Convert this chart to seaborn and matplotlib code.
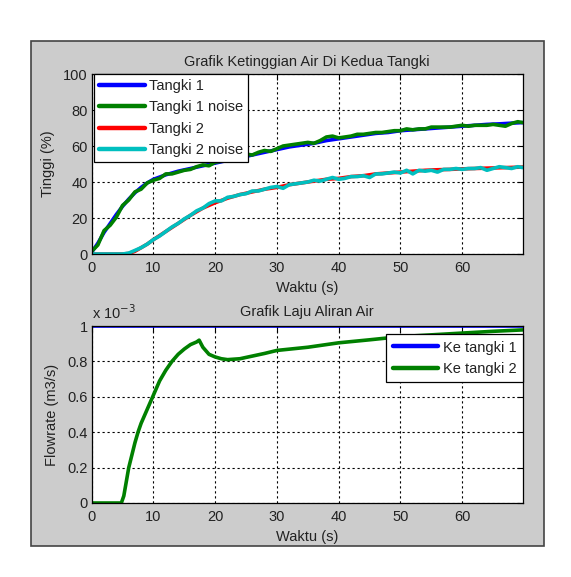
import matplotlib
matplotlib.use('Agg')
import matplotlib.pyplot as plt
import seaborn as sns
from matplotlib.patches import Rectangle

# --- data ---
t_clean = [0, 1, 2, 3, 4, 5, 6, 7, 8, 9, 10, 12, 14, 16, 18, 20, 22, 24, 26, 28, 30,
           32, 34, 36, 38, 40, 42, 44, 46, 48, 50, 52, 54, 56, 58, 60, 62, 64, 66, 68, 69.8]
tangki1 = [1, 6, 12, 17, 22, 26.5, 30.5, 34, 37, 39.5, 41.5, 44, 46, 47.5, 49, 50.5,
           52, 53.5, 55, 56.5, 58, 59.5, 60.5, 61.5, 63, 64, 65, 66, 67, 67.5, 68.5,
           69, 69.5, 70, 70.5, 71, 71.5, 72, 72.3, 72.7, 73]
tangki2 = [0, 0, 0, 0, 0, 0, 0.3, 1.5, 3.5, 5.5, 8, 12.5, 17, 21.5, 25.5, 28.5, 31,
           33, 34.5, 36, 37, 38.5, 39.5, 40.5, 41.5, 42, 43, 43.5, 44.5, 45, 45.5, 46,
           46.5, 46.8, 47, 47.3, 47.5, 47.7, 47.9, 48.1, 48.3]

t_noise = list(range(70)) + [69.8]
tangki1_noise = [1.5, 5, 13, 16, 20.5, 27, 30, 34.5, 36, 39.5, 41, 42, 44.5, 44.5, 45.5,
                 46.5, 47, 48.5, 49.5, 49, 51, 51.5, 52, 53.5, 54, 55.5, 55, 56.5, 57.5,
                 57, 58.5, 60, 60.5, 61, 61.5, 62, 61.5, 63, 65, 65.5, 64.5, 65, 65.5,
                 66.5, 66.5, 67, 67.5, 67.5, 68, 68.5, 68.5, 69.5, 69, 69.5, 69.5, 70.5,
                 70.5, 70.5, 70.5, 71, 71.5, 71, 71.5, 71.5, 71.5, 72, 71.5, 71, 72.5,
                 73.5, 73]
tangki2_noise = [0, 0, 0, 0, 0, 0, 0.5, 2, 3.5, 5.5, 8, 10, 12.5, 15, 17, 19.5, 21.5,
                 24, 25.5, 28, 29.5, 29.5, 31.5, 32, 33, 33.5, 35, 35, 36, 37, 37.5,
                 36.5, 38.5, 39, 39.5, 40, 41, 40.5, 41.5, 42.5, 41.5, 42, 43, 43, 43.5,
                 42.5, 44.5, 44.5, 45, 45.5, 45, 46.5, 44.5, 46.5, 46, 46.5, 45.5, 47,
                 47, 47.5, 47, 47.5, 47.5, 48, 46.5, 47.5, 48.5, 48, 47.5, 48.5, 48]

t_flow = [0, 69.8]
flow1 = [1.0, 1.0]  # x 1e-3 m3/s
t_flow2 = [0, 4.8, 5.2, 5.6, 6, 6.5, 7, 7.5, 8, 9, 10, 11, 12, 13, 14, 15, 16, 17,
           17.4, 18, 19, 20, 21, 22, 24, 26, 28, 30, 35, 40, 45, 50, 55, 60, 65, 69.8]
flow2 = [0, 0, 0.04, 0.12, 0.2, 0.27, 0.34, 0.4, 0.45, 0.53, 0.61, 0.69, 0.75, 0.8,
         0.84, 0.87, 0.895, 0.91, 0.92, 0.88, 0.84, 0.825, 0.815, 0.81, 0.815, 0.83,
         0.845, 0.862, 0.88, 0.905, 0.922, 0.94, 0.95, 0.96, 0.97, 0.978]

W, H = 571, 577
FS = 10.5
sns.set_theme(style='white')
plt.rcParams['font.family'] = ['Liberation Sans', 'DejaVu Sans']
plt.rcParams['font.size'] = FS
TXT = '#222222'

fig = plt.figure(figsize=(W / 100, H / 100), dpi=100)
fig.patch.set_facecolor('white')
fig.patches.append(Rectangle((31 / W, 1 - 546 / H), 513 / W, 505 / H,
                             transform=fig.transFigure, facecolor='#cccccc',
                             edgecolor='#444444', linewidth=1.2, zorder=-10))

ax1 = fig.add_axes([91.7 / W, 1 - 254 / H, 431 / W, 180 / H])
ax2 = fig.add_axes([91.7 / W, 1 - 503 / H, 431 / W, 177 / H])

LW = 2.6
sns.lineplot(x=t_clean, y=tangki1, ax=ax1, color='#0000ff', lw=LW, label='Tangki 1')
sns.lineplot(x=t_noise, y=tangki1_noise, ax=ax1, color='#008000', lw=LW, label='Tangki 1 noise')
sns.lineplot(x=t_clean, y=tangki2, ax=ax1, color='#ff0000', lw=LW, label='Tangki 2')
sns.lineplot(x=t_noise, y=tangki2_noise, ax=ax1, color='#00bfbf', lw=LW, label='Tangki 2 noise')

sns.lineplot(x=t_flow, y=flow1, ax=ax2, color='#0000ff', lw=LW, label='Ke tangki 1')
sns.lineplot(x=t_flow2, y=flow2, ax=ax2, color='#008000', lw=LW, label='Ke tangki 2')

for ax in (ax1, ax2):
    ax.set_facecolor('white')
    ax.set_xlim(0, 69.8)
    ax.set_xticks([0, 10, 20, 30, 40, 50, 60])
    ax.grid(True, color='black', linestyle=(0, (2, 2.5)), linewidth=0.8)
    ax.tick_params(direction='in', top=True, right=True, length=4, width=0.8,
                   colors='black', labelcolor=TXT, labelsize=FS)
    ax.tick_params(axis='x', pad=5)
    ax.tick_params(axis='y', pad=3)
    for s in ax.spines.values():
        s.set_color('black')
        s.set_linewidth(0.9)
    ax.set_xlabel('Waktu (s)', color=TXT, fontsize=FS, labelpad=4)

ax1.set_ylim(0, 100)
ax1.set_yticks([0, 20, 40, 60, 80, 100])
ax1.set_ylabel('Tinggi (%)', color=TXT, fontsize=FS, labelpad=6)
ax1.set_title('Grafik Ketinggian Air Di Kedua Tangki', color=TXT, fontsize=FS, pad=5.5)

ax2.set_ylim(0, 1)
ax2.set_yticks([0, 0.2, 0.4, 0.6, 0.8, 1])
ax2.set_yticklabels(['0', '0.2', '0.4', '0.6', '0.8', '1'])
ax2.set_ylabel('Flowrate (m3/s)', color=TXT, fontsize=FS, labelpad=6)
ax2.set_title('Grafik Laju Aliran Air', color=TXT, fontsize=FS, pad=7.5)
ax2.text(0.0, 1.02, r'x 10$^{-3}$', transform=ax2.transAxes, color=TXT,
         fontsize=FS, ha='left', va='bottom')

leg_kw = dict(frameon=True, fancybox=False, framealpha=1, edgecolor='black',
              fontsize=FS, handlelength=3.1, handletextpad=0.3,
              borderaxespad=0, labelspacing=0.5, borderpad=0.35)
l1 = ax1.legend(loc='upper left', bbox_to_anchor=(0.006, 1.0), **leg_kw)
l2 = ax2.legend(loc='upper right', bbox_to_anchor=(1.0, 0.955),
                **{**leg_kw, 'borderpad': 0.45})
for leg in (l1, l2):
    leg.get_frame().set_linewidth(0.9)
    for txt in leg.get_texts():
        txt.set_color(TXT)
    for h in leg.get_lines():
        h.set_linewidth(3.2)

fig.savefig('out.png', dpi=100)
